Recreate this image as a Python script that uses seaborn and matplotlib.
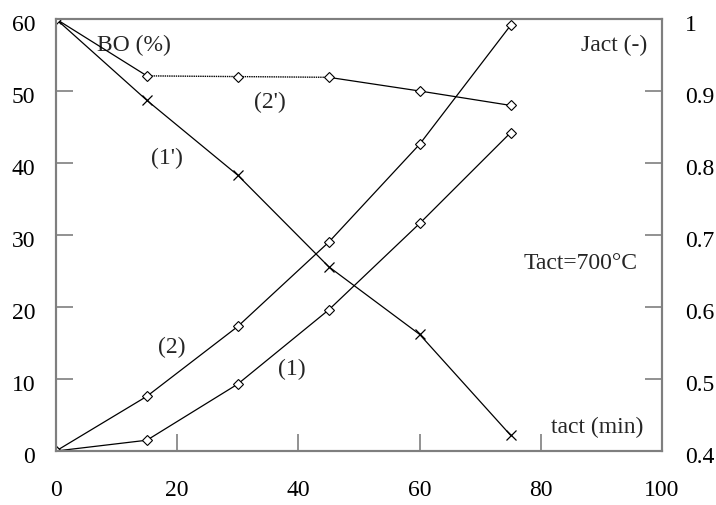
import pandas as pd
import matplotlib
matplotlib.use("Agg")
import matplotlib.pyplot as plt
import matplotlib.transforms as mtrans
import seaborn as sns

# 데이터
t_min = [0, 15, 30, 45, 60, 75]
bo_1 = [0, 1.5, 9.3, 19.6, 31.6, 44.2]
bo_2 = [0, 7.6, 17.3, 29.0, 42.6, 59.1]
jact_1p = [1.0, 0.887, 0.783, 0.656, 0.562, 0.422]
jact_2p = [1.0, 0.921, 0.920, 0.919, 0.900, 0.880]

x_ticks = [0, 20, 40, 60, 80, 100]
left_ticks = [0, 10, 20, 30, 40, 50, 60]
right_ticks = [0.4, 0.5, 0.6, 0.7, 0.8, 0.9, 1.0]
right_labels = ["0.4", "0.5", "0.6", "0.7", "0.8", "0.9", "1"]

sns.set_theme(style="white")
plt.rcParams["font.family"] = ["Liberation Serif", "DejaVu Serif"]

df = pd.DataFrame({"t": t_min, "bo1": bo_1, "bo2": bo_2, "j1": jact_1p, "j2": jact_2p})

fig = plt.figure(figsize=(7.16, 5.06), dpi=100)
ax = fig.add_axes([0.0782, 0.1067, 0.8464, 0.8538])
ax2 = ax.twinx()

mk_d = dict(marker="D", markersize=5, markerfacecolor="white", markeredgecolor="black",
            markeredgewidth=0.8, color="black", linewidth=0.9)
mk_x = dict(marker="x", markersize=7, markeredgecolor="black", markeredgewidth=0.9,
            color="black", linewidth=0.9)

# (1), (2) : BO, 왼쪽 축
sns.lineplot(data=df, x="t", y="bo1", ax=ax, **mk_d)
sns.lineplot(data=df, x="t", y="bo2", ax=ax, **mk_d)

# (1'), (2') : Jact, 오른쪽 축
sns.lineplot(data=df, x="t", y="j1", ax=ax2, **mk_x)
seg_a = df.iloc[0:2]
seg_b = df.iloc[1:4]
seg_c = df.iloc[3:6]
sns.lineplot(data=seg_a, x="t", y="j2", ax=ax2, color="black", linewidth=0.9)
sns.lineplot(data=seg_b, x="t", y="j2", ax=ax2, color="black", linewidth=1.0,
             linestyle=(0, (1, 0.6)))
sns.lineplot(data=seg_c, x="t", y="j2", ax=ax2, color="black", linewidth=0.9)
mk_d_only = {k: v for k, v in mk_d.items() if k != "linewidth"}
sns.lineplot(data=df, x="t", y="j2", ax=ax2, linestyle="none", **mk_d_only)

ax.set_xlim(0, 100)
ax.set_ylim(0, 60)
ax2.set_ylim(0.4, 1.0)
ax.set_xticks(x_ticks)
ax.set_yticks(left_ticks)
ax2.set_yticks(right_ticks)
ax2.set_yticklabels(right_labels)
ax.set_xlabel("")
ax.set_ylabel("")
ax2.set_ylabel("")

spine_c = "#7f7f7f"
for a in (ax, ax2):
    for s in a.spines.values():
        s.set_color(spine_c)
        s.set_linewidth(1.5)
        s.set_visible(True)
fs = 17
ax.tick_params(axis="x", direction="in", length=12, width=1.2, color=spine_c,
               pad=20.5, labelsize=fs, bottom=True)
ax.tick_params(axis="y", direction="in", length=12, width=1.2, color=spine_c,
               pad=15, labelsize=fs, left=True)
ax2.tick_params(axis="y", direction="in", length=12, width=1.2, color=spine_c,
                pad=16.5, labelsize=fs, right=True)

# 세로축 눈금 글자를 조금 아래로
shift = mtrans.ScaledTranslation(0, -0.03, fig.dpi_scale_trans)
for a in (ax, ax2):
    for lab in a.get_yticklabels():
        lab.set_transform(lab.get_transform() + shift)
    for lab in a.get_xticklabels() + a.get_yticklabels():
        lab.set_color("black")

ax.text(0.068, 0.942, "BO (%)", transform=ax.transAxes, fontsize=fs, ha="left", va="center")
ax.text(0.975, 0.94, "Jact (-)", transform=ax.transAxes, fontsize=fs, ha="right", va="center")
ax.text(0.960, 0.437, "Tact=700°C", transform=ax.transAxes, fontsize=fs, ha="right", va="center")
ax.text(0.969, 0.056, "tact (min)", transform=ax.transAxes, fontsize=fs, ha="right", va="center")
ax.text(0.183, 0.68, "(1')", transform=ax.transAxes, fontsize=fs, ha="center", va="center")
ax.text(0.353, 0.81, "(2')", transform=ax.transAxes, fontsize=fs, ha="center", va="center")
ax.text(0.191, 0.243, "(2)", transform=ax.transAxes, fontsize=fs, ha="center", va="center")
ax.text(0.389, 0.19, "(1)", transform=ax.transAxes, fontsize=fs, ha="center", va="center")

fig.savefig("out.png", dpi=100)
